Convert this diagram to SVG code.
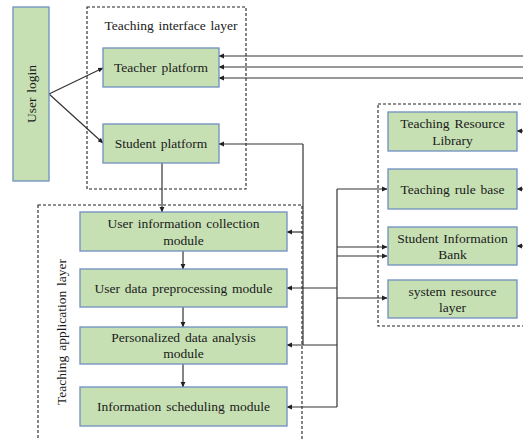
<svg xmlns="http://www.w3.org/2000/svg" width="523" height="440" viewBox="0 0 523 440" font-family="'Liberation Serif', 'DejaVu Serif', serif">
  <defs>
    <marker id="arrow" markerWidth="6" markerHeight="6" refX="5" refY="3" orient="auto" markerUnits="userSpaceOnUse">
      <path d="M0,0.6 L5.5,3 L0,5.4 Z" fill="#222"/>
    </marker>
    <style>
      .box { fill: #c6e0b4; stroke: #6f8fbf; stroke-width: 1.3; }
      .layer { fill: none; stroke: #222; stroke-width: 1.1; stroke-dasharray: 3 2; }
      .txt { font-family: 'Liberation Serif', 'DejaVu Serif', serif; font-size: 13.5px; fill: #1a1a1a; text-anchor: middle; word-spacing: 1.5px; }
      .link { fill: none; stroke: #333; stroke-width: 1.2; }
      .arr { marker-end: url(#arrow); }
    </style>
  </defs>
  <rect width="523" height="440" fill="#ffffff"/>

  <!-- layer frames -->
  <g id="interface-layer">
    <rect class="layer" x="87" y="7" width="159" height="182"/>
    <text class="txt" x="171" y="30">Teaching interface layer</text>
  </g>
  <g id="application-layer">
    <rect class="layer" x="38" y="205" width="264" height="245"/>
    <text class="txt" transform="translate(66,332) rotate(-90)">Teaching application layer</text>
  </g>
  <g id="resource-layer">
    <rect class="layer" x="378" y="104" width="160" height="222"/>
  </g>

  <!-- connectors -->
  <g id="connectors">
    <!-- login to platforms -->
    <line class="link arr" x1="49" y1="94" x2="103" y2="68"/>
    <line class="link arr" x1="49" y1="94" x2="103" y2="143"/>
    <!-- inputs to teacher platform -->
    <line class="link arr" x1="523" y1="56" x2="219" y2="56"/>
    <line class="link arr" x1="523" y1="67" x2="219" y2="67"/>
    <line class="link arr" x1="523" y1="78" x2="219" y2="78"/>
    <!-- inputs to resource boxes -->
    <line class="link arr" x1="523" y1="131" x2="517" y2="131"/>
    <line class="link arr" x1="523" y1="189" x2="517" y2="189"/>
    <line class="link arr" x1="523" y1="246" x2="517" y2="246"/>
    <!-- student platform down to collection module -->
    <line class="link arr" x1="162" y1="163" x2="162" y2="212"/>
    <!-- module chain -->
    <line class="link arr" x1="183" y1="251" x2="183" y2="269"/>
    <line class="link arr" x1="183" y1="307" x2="183" y2="327"/>
    <line class="link arr" x1="183" y1="364" x2="183" y2="387"/>
    <!-- bus at x=303 -->
    <polyline class="link" points="303,144 303,345"/>
    <line class="link arr" x1="303" y1="144" x2="219" y2="144"/>
    <line class="link arr" x1="303" y1="232" x2="287" y2="232"/>
    <!-- bus at x=337 -->
    <polyline class="link" points="337,189 337,407"/>
    <line class="link arr" x1="337" y1="189" x2="387" y2="189"/>
    <line class="link arr" x1="337" y1="247" x2="387" y2="247"/>
    <line class="link arr" x1="337" y1="256" x2="387" y2="256"/>
    <line class="link arr" x1="337" y1="298" x2="387" y2="298"/>
    <line class="link arr" x1="337" y1="288" x2="287" y2="288"/>
    <line class="link arr" x1="337" y1="345" x2="287" y2="345"/>
    <line class="link arr" x1="337" y1="407" x2="287" y2="407"/>
  </g>

  <!-- nodes -->
  <g id="user-login">
    <rect class="box" x="13" y="7" width="36" height="174"/>
    <text class="txt" transform="translate(35.5,94) rotate(-90)">User login</text>
  </g>
  <g id="teacher-platform">
    <rect class="box" x="103" y="48" width="116" height="39"/>
    <text class="txt" x="161" y="72">Teacher platform</text>
  </g>
  <g id="student-platform">
    <rect class="box" x="103" y="124" width="116" height="39"/>
    <text class="txt" x="161" y="148">Student platform</text>
  </g>

  <g id="user-info-collection">
    <rect class="box" x="80" y="212" width="207" height="39"/>
    <text class="txt" x="183.5" y="228">User information collection</text>
    <text class="txt" x="183.5" y="245">module</text>
  </g>
  <g id="user-data-preprocessing">
    <rect class="box" x="80" y="269" width="207" height="38"/>
    <text class="txt" x="183.5" y="292.5">User data preprocessing module</text>
  </g>
  <g id="personalized-analysis">
    <rect class="box" x="80" y="327" width="207" height="37"/>
    <text class="txt" x="183.5" y="342">Personalized data analysis</text>
    <text class="txt" x="183.5" y="358">module</text>
  </g>
  <g id="information-scheduling">
    <rect class="box" x="80" y="387" width="207" height="39"/>
    <text class="txt" x="183.5" y="411">Information scheduling module</text>
  </g>

  <g id="teaching-resource-library">
    <rect class="box" x="388" y="112" width="129" height="39"/>
    <text class="txt" x="452.5" y="128">Teaching Resource</text>
    <text class="txt" x="452.5" y="145">Library</text>
  </g>
  <g id="teaching-rule-base">
    <rect class="box" x="388" y="169" width="129" height="40"/>
    <text class="txt" x="452.5" y="193.5">Teaching rule base</text>
  </g>
  <g id="student-information-bank">
    <rect class="box" x="388" y="227" width="129" height="38"/>
    <text class="txt" x="452.5" y="243">Student Information</text>
    <text class="txt" x="452.5" y="259">Bank</text>
  </g>
  <g id="system-resource-layer">
    <rect class="box" x="388" y="280" width="129" height="38"/>
    <text class="txt" x="452.5" y="296">system resource</text>
    <text class="txt" x="452.5" y="312">layer</text>
  </g>
</svg>
